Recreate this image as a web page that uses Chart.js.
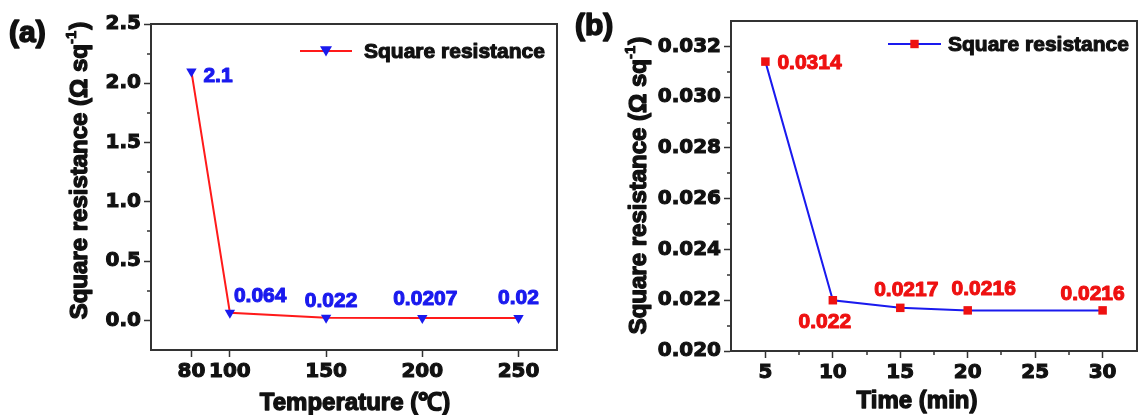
<!DOCTYPE html>
<html>
<head>
<meta charset="utf-8">
<script src="https://cdn.jsdelivr.net/npm/chart.js@4.4.0/dist/chart.umd.min.js"></script>
<style>
html, body { margin: 0; padding: 0; background: #fff; }
#wrap { position: relative; width: 1143px; height: 415px; overflow: hidden; }
#chartA { position: absolute; left: 0; top: 0; }
#chartB { position: absolute; left: 570px; top: 0; }
</style>
</head>
<body>
<div id="wrap">
    <canvas id="chartA" width="570" height="415"></canvas>
    <canvas id="chartB" width="573" height="415"></canvas>
</div>
<script>
// (a) resistance vs annealing temperature
const temperature = [80, 100, 150, 200, 250]
const resistanceByTemp = [2.1, 0.064, 0.022, 0.0207, 0.02]
const tempTicks = [80, 100, 150, 200, 250]
const resTempTicks = [0, 0.5, 1.0, 1.5, 2.0, 2.5]

// (b) resistance vs time
const time = [5, 10, 15, 20, 30]
const resistanceByTime = [0.0314, 0.022, 0.0217, 0.0216, 0.0216]
const timeTicks = [5, 10, 15, 20, 25, 30]
const resTimeTicks = [0.020, 0.022, 0.024, 0.026, 0.028, 0.030, 0.032]

const seriesName = 'Square resistance'

const TICK_FONT = { family: 'DejaVu Sans', weight: 'bold', size: 20 }
const TEXT_FAMILY = '"Liberation Sans", Arial, sans-serif'
const FRAME = '#333'

function midpoints(arr)
{
    let out = []
    for (let i = 0; i < arr.length - 1; i++) out.push((arr[i] + arr[i + 1]) / 2)
    return out
}

function markerPath(ctx, shape, x, y, r)
{
    ctx.beginPath()
    if (shape === 'down') {
        ctx.moveTo(x - r, y - r * 0.8)
        ctx.lineTo(x + r, y - r * 0.8)
        ctx.lineTo(x, y + r * 0.9)
        ctx.closePath()
    } else {
        ctx.rect(x - r * 0.7, y - r * 0.7, r * 1.4, r * 1.4)
    }
}

// heavy text: fill plus a thin stroke of the same colour
function heavy(ctx, txt, x, y, color, w)
{
    ctx.fillStyle = color
    ctx.strokeStyle = color
    ctx.lineWidth = w
    ctx.lineJoin = 'round'
    ctx.fillText(txt, x, y)
    ctx.strokeText(txt, x, y)
}

// frame, minor ticks, data labels, legend and titles
function decor(o)
{
    return {
        id: 'decor_' + o.tag,
        afterDatasetsDraw(chart) {
            const ctx = chart.ctx
            const a = chart.chartArea
            ctx.save()
            ctx.strokeStyle = FRAME
            ctx.lineWidth = 2
            ctx.strokeRect(a.left, a.top, a.right - a.left, a.bottom - a.top)

            // minor ticks
            ctx.lineWidth = 1.5
            const ys = chart.scales.y, xs = chart.scales.x
            ctx.beginPath()
            o.yMinor.forEach(v => {
                const p = Math.round(ys.getPixelForValue(v))
                ctx.moveTo(a.left, p); ctx.lineTo(a.left - 4, p)
            })
            o.xMinor.forEach(v => {
                const p = Math.round(xs.getPixelForValue(v))
                ctx.moveTo(p, a.bottom); ctx.lineTo(p, a.bottom + 4)
            })
            ctx.stroke()

            // point labels
            const pts = chart.getDatasetMeta(0).data
            ctx.font = 'bold 21px ' + TEXT_FAMILY
            ctx.textBaseline = 'middle'
            pts.forEach((pt, i) => {
                const off = o.labelOffsets[i]
                ctx.textAlign = off[2]
                heavy(ctx, String(o.values[i]), pt.x + off[0], pt.y + off[1], o.labelColor, 1.1)
            })

            // legend
            const lg = o.legend
            ctx.strokeStyle = o.lineColor
            ctx.lineWidth = 2
            ctx.beginPath()
            ctx.moveTo(lg.x1, lg.y); ctx.lineTo(lg.x2, lg.y)
            ctx.stroke()
            ctx.fillStyle = o.markColor
            markerPath(ctx, o.shape, (lg.x1 + lg.x2) / 2, lg.y, 6)
            ctx.fill()
            ctx.textAlign = 'left'
            heavy(ctx, seriesName, lg.tx, lg.y + 1, '#111', 1.1)

            // panel letter
            ctx.font = 'bold 30px ' + TEXT_FAMILY
            heavy(ctx, o.letter, o.letterPos[0], o.letterPos[1], '#111', 1.6)

            // x title
            ctx.font = 'bold 24px ' + TEXT_FAMILY
            ctx.textAlign = 'center'
            heavy(ctx, o.xTitle, o.xTitlePos[0], o.xTitlePos[1], '#111', 1.3)

            // y title with superscript
            ctx.translate(o.yTitlePos[0], o.yTitlePos[1])
            ctx.rotate(-Math.PI / 2)
            ctx.textAlign = 'left'
            const main = 'Square resistance (\u03A9 sq'
            const big = 'bold 24px ' + TEXT_FAMILY, small = 'bold 15px ' + TEXT_FAMILY
            ctx.font = big
            const w1 = ctx.measureText(main).width, w3 = ctx.measureText(')').width
            ctx.font = small
            const w2 = ctx.measureText('-1').width
            let x0 = -(w1 + w2 + w3) / 2
            ctx.font = big
            heavy(ctx, main, x0, 0, '#111', 1.3)
            ctx.font = small
            heavy(ctx, '-1', x0 + w1, -8, '#111', 0.9)
            ctx.font = big
            heavy(ctx, ')', x0 + w1 + w2 + 1, 0, '#111', 1.3)
            ctx.restore()
        }
    }
}

function axis(min, max, ticks, fmt, fitProp, fitSize)
{
    return {
        type: 'linear',
        min: min,
        max: max,
        afterBuildTicks: s => { s.ticks = ticks.map(v => ({ value: v })) },
        afterFit: s => { s[fitProp] = fitSize },
        grid: { drawOnChartArea: false, drawTicks: true, tickLength: 7, tickColor: FRAME, tickWidth: 1.5 },
        border: { display: true, color: FRAME, width: 2 },
        ticks: {
            font: TICK_FONT, color: '#111', padding: 3, maxRotation: 0, autoSkip: false,
            textStrokeColor: '#111', textStrokeWidth: 1.1,
            callback: fmt
        },
        title: { display: false }
    }
}

function Plot(id, o)
{
    return new Chart(document.getElementById(id), {
        type: 'line',
        data: {
            datasets: [{
                label: seriesName,
                data: o.xs.map((x, i) => ({ x: x, y: o.values[i] })),
                borderColor: o.lineColor,
                borderWidth: 2,
                tension: 0,
                pointStyle: o.shape === 'down' ? 'triangle' : 'rect',
                rotation: o.shape === 'down' ? 180 : 0,
                pointRadius: 6,
                pointBackgroundColor: o.markColor,
                pointBorderColor: o.markColor,
                pointBorderWidth: 0
            }]
        },
        options: {
            responsive: false,
            animation: false,
            layout: { padding: o.padding },
            plugins: { legend: { display: false }, tooltip: { enabled: false } },
            scales: {
                x: axis(o.xMin, o.xMax, o.xTicks, v => String(v), 'height', o.xAxisH),
                y: axis(o.yMin, o.yMax, o.yTicks, v => v.toFixed(o.yDigits), 'width', o.yAxisW)
            }
        },
        plugins: [decor(o)]
    })
}

Plot('chartA', {
    tag: 'a', letter: '(a)', letterPos: [9, 34],
    xs: temperature, values: resistanceByTemp,
    xMin: 59, xMax: 270, xTicks: tempTicks,
    yMin: -0.25, yMax: 2.5, yTicks: resTempTicks, yDigits: 1,
    xMinor: [], yMinor: midpoints(resTempTicks),
    padding: { left: 0, right: 13, top: 24, bottom: 0 }, yAxisW: 151, xAxisH: 65,
    lineColor: '#ff1a1a', markColor: '#1a1aee', labelColor: '#1a1aee', shape: 'down',
    labelOffsets: [[12, 5, 'left'], [4, -17, 'left'], [5, -17, 'center'], [3, -19, 'center'], [0, -20, 'center']],
    legend: { x1: 300, x2: 352, y: 51, tx: 364 },
    xTitle: 'Temperature (\u2103)', xTitlePos: [355, 403],
    yTitlePos: [80, 171]
})

Plot('chartB', {
    tag: 'b', letter: '(b)', letterPos: [5, 27],
    xs: time, values: resistanceByTime,
    xMin: 2.45, xMax: 32.55, xTicks: timeTicks,
    yMin: 0.020, yMax: 0.033, yTicks: resTimeTicks, yDigits: 3,
    xMinor: midpoints(timeTicks), yMinor: midpoints(resTimeTicks),
    padding: { left: 0, right: 1, top: 21, bottom: 0 }, yAxisW: 161, xAxisH: 64,
    lineColor: '#1a1aee', markColor: '#ee1111', labelColor: '#ee1111', shape: 'rect',
    labelOffsets: [[12, 2, 'left'], [-8, 22, 'center'], [6, -18, 'center'], [16, -21, 'center'], [-10, -16, 'center']],
    legend: { x1: 318, x2: 371, y: 44, tx: 378 },
    xTitle: 'Time (min)', xTitlePos: [347, 401],
    yTitlePos: [69, 186]
})
</script>
</body>
</html>
